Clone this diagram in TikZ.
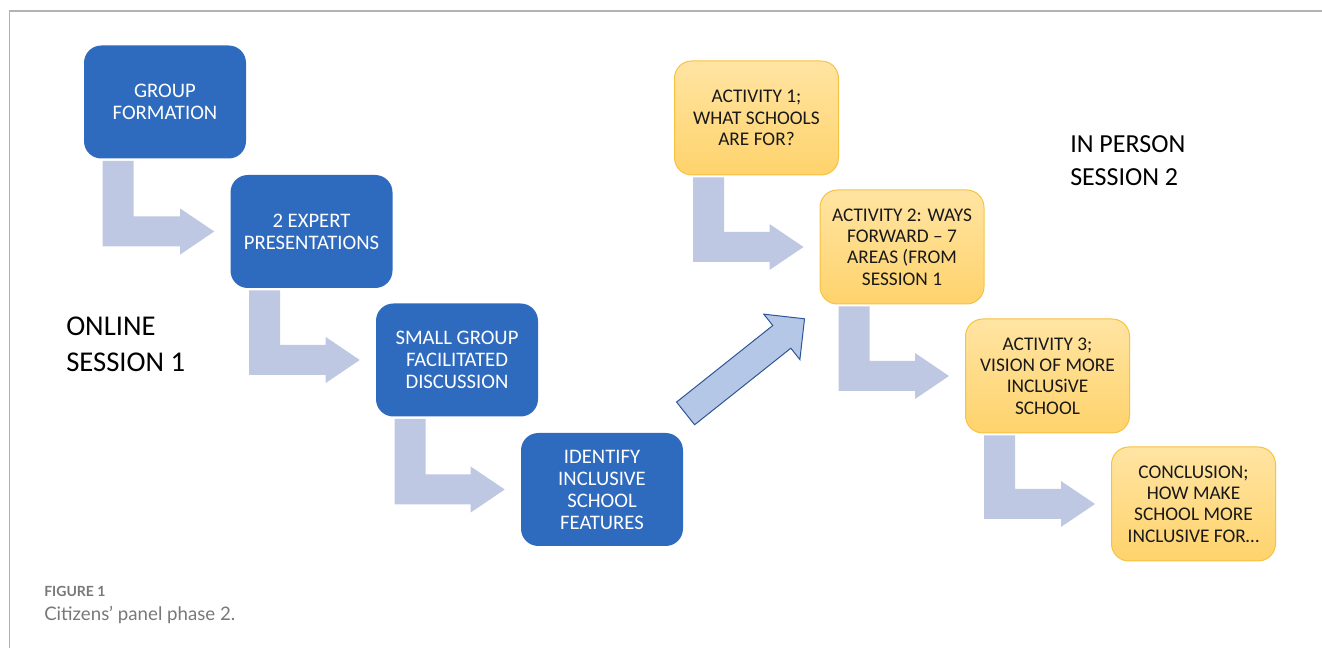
\documentclass[tikz,border=0pt]{standalone}
\usepackage{fontspec}
\setmainfont{Carlito}
\newfontfamily\capfont{Lato}
\usetikzlibrary{calc,shapes.arrows}

\definecolor{boxblue}{RGB}{46,106,190}
\definecolor{yellowtop}{RGB}{255,228,162}
\definecolor{yellowbot}{RGB}{255,211,108}
\definecolor{yellowline}{RGB}{246,194,66}
\definecolor{bentgray}{RGB}{191,200,227}
\definecolor{jumpfill}{RGB}{180,199,231}
\definecolor{jumpline}{RGB}{47,85,151}
\definecolor{framegray}{RGB}{178,178,178}
\definecolor{capgray}{RGB}{120,120,120}

\tikzset{
  onlinebox/.style={rectangle, rounded corners=13pt, fill=boxblue, text=white,
    minimum width=121.5pt, minimum height=84.75pt, align=center,
    font=\fontsize{15.5}{16.5}\selectfont},
  personbox/.style={rectangle, rounded corners=13pt, draw=yellowline, line width=0.75pt,
    top color=yellowtop, bottom color=yellowbot, text=black!90,
    minimum width=123pt, minimum height=85.5pt, align=center,
    font=\fontsize{14.5}{16}\selectfont},
  bent/.style={fill=bentgray},
  jump/.style={single arrow, draw=jumpline, fill=jumpfill, line width=0.75pt,
    minimum height=114pt, inner xsep=0pt, inner ysep=10.5pt,
    single arrow head extend=10.9pt, rotate=38.5},
  sessionlabel/.style={anchor=west, align=left, inner sep=0pt}
}

% bent arrow from the bottom of one box to the side of the next
\newcommand{\bentarrow}[2]{%
  \coordinate (ba) at ($(#1.south west)+(19,2)$);
  \coordinate (bb) at ($(ba)+(31,0)$);
  \coordinate (bt) at ($(#2.west)+(-16,0)$);
  \coordinate (bu) at ($(bt)+(0,-15)$);
  \coordinate (bd) at ($(bt)+(0,15)$);
  \fill[bent] (ba) -- (bb) -- (bb |- bu) -- ($(bt)+(-34,-15)$) -- ($(bt)+(-34,-23)$)
    -- (bt) -- ($(bt)+(-34,23)$) -- ($(bt)+(-34,15)$) -- (ba |- bd) -- cycle;
}

\begin{document}
\begin{tikzpicture}[x=0.75pt,y=-0.75pt]
  \useasboundingbox (0,0) rectangle (1322,648);
  \draw[framegray, line width=1.1pt] (9.5,648) -- (9.5,11) -- (1322,11);

  \node[onlinebox] (formation) at (165,102) {GROUP\\FORMATION};
  \node[onlinebox] (experts) at (311.5,231.5) {2 EXPERT\\PRESENTATIONS};
  \node[onlinebox] (discussion) at (457,360) {SMALL GROUP\\FACILITATED\\DISCUSSION};
  \node[onlinebox] (features) at (602,489.5) {IDENTIFY\\INCLUSIVE\\SCHOOL\\FEATURES};

  \node[personbox] (act1) at (756.5,118) {ACTIVITY 1;\\WHAT SCHOOLS\\ARE FOR?};
  \node[personbox] (act2) at (902,247) {ACTIVITY 2: WAYS\\FORWARD -- 7\\AREAS (FROM\\SESSION 1};
  \node[personbox] (act3) at (1047.5,376) {ACTIVITY 3;\\VISION OF MORE\\INCLUSiVE\\SCHOOL};
  \node[personbox] (conclusion) at (1193.5,504) {CONCLUSION;\\HOW MAKE\\SCHOOL MORE\\INCLUSIVE FOR\dots};

  \foreach \a/\b in {formation/experts, experts/discussion, discussion/features,
                     act1/act2, act2/act3, act3/conclusion} {
    \bentarrow{\a}{\b}
  }

  \node[jump] (step) at ($(features.north east)!0.5!(act2.south west)+(-12,2)$) {};

  \node[sessionlabel, font=\fontsize{21.5}{27}\selectfont] (online) at (66,344) {ONLINE\\SESSION 1};
  \node[sessionlabel, font=\fontsize{19.5}{24.75}\selectfont] (inperson) at (1070,161) {IN PERSON\\SESSION 2};

  \node[anchor=base west, inner sep=0pt, text=capgray, font=\capfont\bfseries\fontsize{10.5}{12}\selectfont] (fig) at (44,596) {FIGURE 1};
  \node[anchor=base west, inner sep=0pt, text=capgray, font=\capfont\fontsize{14}{16}\selectfont] (cap) at (44,620) {Citizens’ panel phase 2.};
\end{tikzpicture}
\end{document}
